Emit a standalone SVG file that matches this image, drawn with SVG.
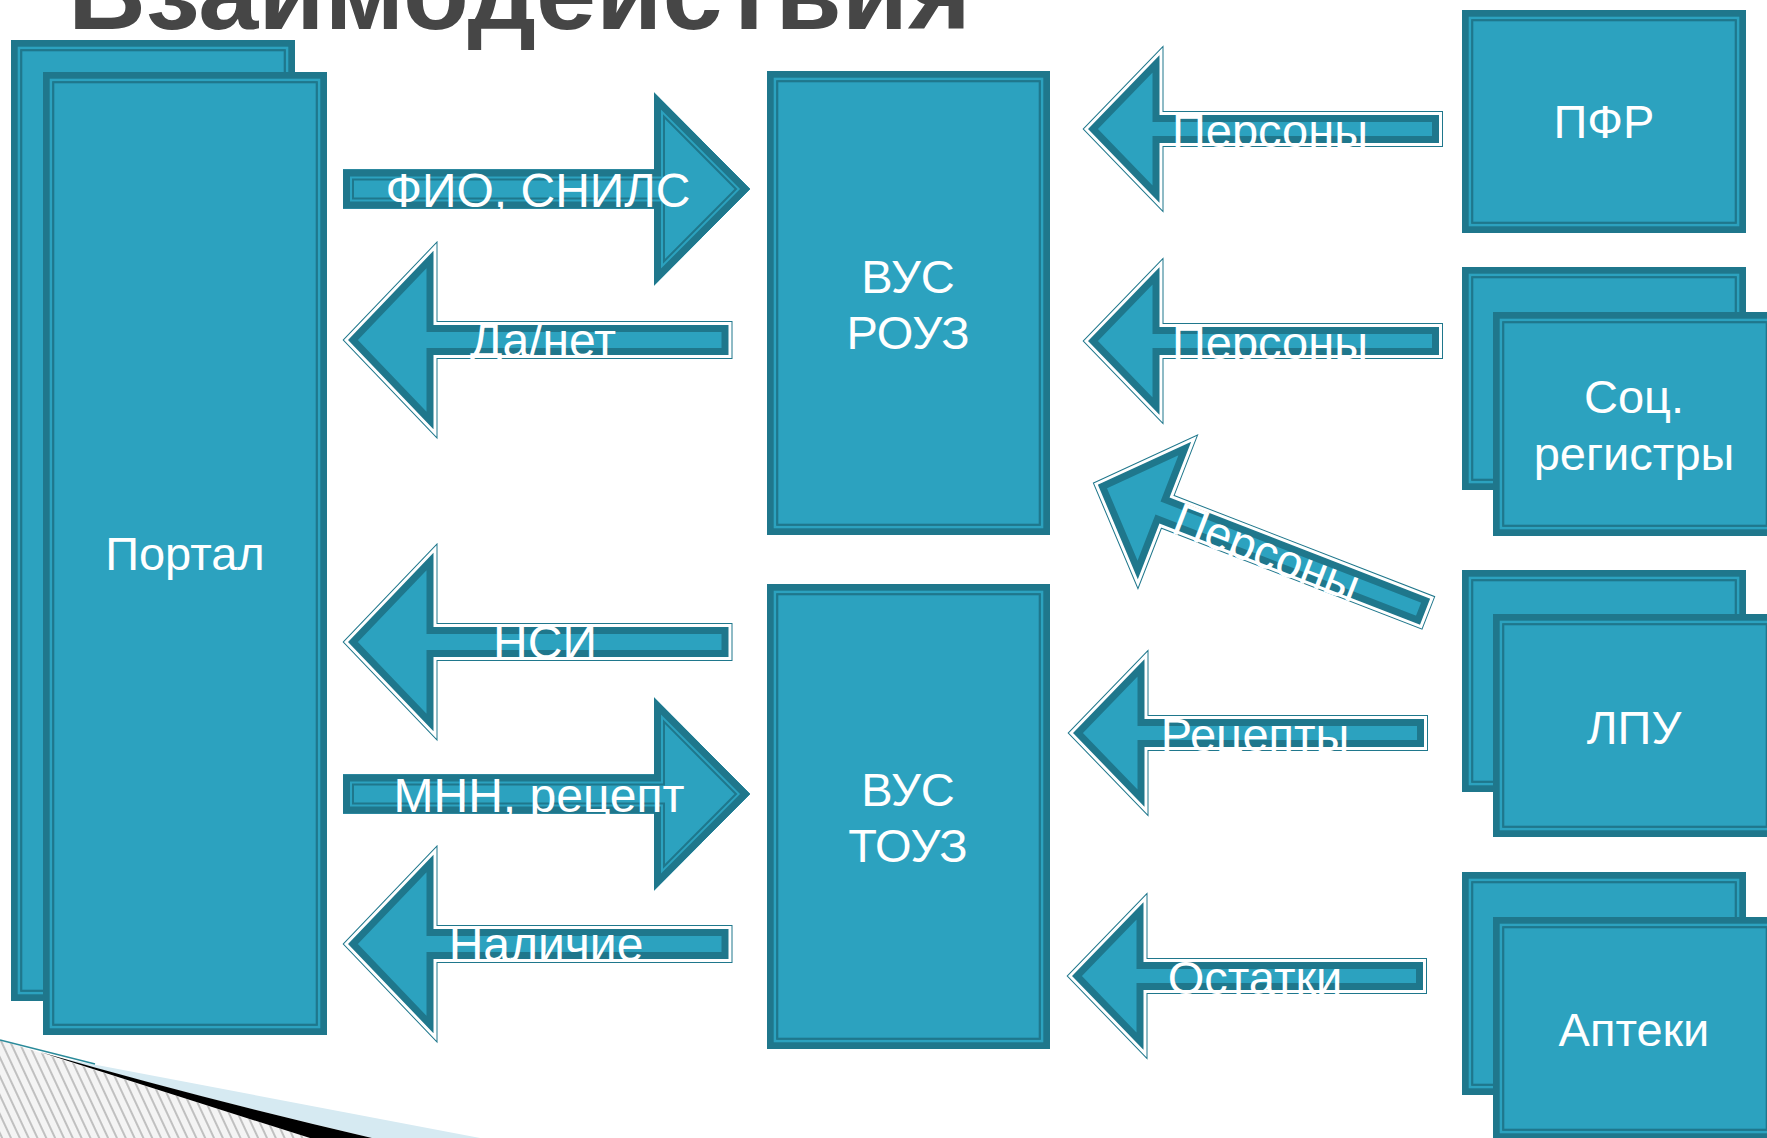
<svg xmlns="http://www.w3.org/2000/svg" width="1767" height="1138" viewBox="0 0 1767 1138">
<defs>
<style>
.t{font-family:"Liberation Sans",Arial,sans-serif;fill:#fff;text-anchor:middle}
.nt{font-size:47px}
.at{font-size:48px}
.pt{font-size:47px}
.bo{fill:#1F778C}
.bl{fill:none;stroke:#2CA2BF;stroke-width:2.6}
.bi{fill:#2CA2BF;stroke:#1F778C;stroke-width:2}
.ao{fill:#1F778C;stroke:#1F778C;stroke-width:5}
.aw{fill:none;stroke:#fff;stroke-width:3}
.ab{fill:#2CA2BF;stroke:#1F778C;stroke-width:17}
.rb1{fill:#2CA2BF;stroke:#1F778C;stroke-width:22}
.rb2{fill:none;stroke:#2CA2BF;stroke-width:18}
.rb3{fill:none;stroke:#1F778C;stroke-width:14}
.title{font-family:"Liberation Sans",Arial,sans-serif;font-weight:bold;font-size:106px;fill:#464646}
</style>
<path id="pL" d="M3,0 L92,-93 L92,-16.5 L387,-16.5 L387,16.5 L92,16.5 L92,93 Z"/>
<path id="pP" d="M3,0 L78,-77.5 L78,-15.5 L357.5,-15.5 L357.5,15.5 L78,15.5 L78,77.5 Z"/>
<path id="pR" d="M0,-19.5 L311,-19.5 L311,-96.5 L407,0 L311,96.5 L311,19.5 L0,19.5 Z"/>
<clipPath id="cL"><use href="#pL"/></clipPath>
<clipPath id="cP"><use href="#pP"/></clipPath>
<clipPath id="cR"><use href="#pR"/></clipPath>
<pattern id="hatch" patternUnits="userSpaceOnUse" width="8" height="8" patternTransform="rotate(-25)">
<rect width="8" height="8" fill="#f4f4f4"/>
<line x1="1" y1="0" x2="1" y2="8" stroke="#8c8c8c" stroke-width="1"/>
</pattern>
</defs>
<rect width="1767" height="1138" fill="#fff"/>

<text class="title" x="68" y="29" textLength="903" lengthAdjust="spacingAndGlyphs">Взаимодействия</text>

<g id="decoration">
<path d="M60,1058 L480,1138 L372,1138 Q200,1098 60,1058 Z" fill="#d6eaf2"/>
<path d="M0,1040 L310,1138 L0,1138 Z" fill="url(#hatch)"/>
<path d="M40,1052 Q200,1098 372,1138 L310,1138 Q180,1097 40,1052 Z" fill="#000"/>
<path d="M0,1040 L95,1064" stroke="#2a8a9a" stroke-width="1.5" fill="none"/>
</g>

<g id="node-portal">
<rect class="bo" x="11" y="40" width="284" height="961"/>
<rect class="bl" x="19" y="48" width="268" height="945"/>
<rect class="bi" x="21.3" y="50.3" width="263.4" height="940.4"/>
<rect class="bo" x="43" y="72" width="284" height="963"/>
<rect class="bl" x="51" y="80" width="268" height="947"/>
<rect class="bi" x="53.3" y="82.3" width="263.4" height="942.4"/>
<text class="t nt" x="185" y="570">Портал</text>
</g>

<g id="node-vus-rouz">
<rect class="bo" x="767" y="71" width="283" height="464"/>
<rect class="bl" x="775" y="79" width="267" height="448"/>
<rect class="bi" x="777.3" y="81.3" width="262.4" height="443.4"/>
<text class="t nt" x="908" y="293">ВУС</text>
<text class="t nt" x="908" y="349">РОУЗ</text>
</g>

<g id="node-vus-touz">
<rect class="bo" x="767" y="584" width="283" height="465"/>
<rect class="bl" x="775" y="592" width="267" height="449"/>
<rect class="bi" x="777.3" y="594.3" width="262.4" height="444.4"/>
<text class="t nt" x="908" y="806">ВУС</text>
<text class="t nt" x="908" y="862">ТОУЗ</text>
</g>

<g id="node-pfr">
<rect class="bo" x="1462" y="10" width="284" height="223"/>
<rect class="bl" x="1470" y="18" width="268" height="207"/>
<rect class="bi" x="1472.3" y="20.3" width="263.4" height="202.4"/>
<text class="t nt" x="1604" y="138">ПФР</text>
</g>

<g id="node-soc">
<rect class="bo" x="1462" y="267" width="284" height="223"/>
<rect class="bl" x="1470" y="275" width="268" height="207"/>
<rect class="bi" x="1472.3" y="277.3" width="263.4" height="202.4"/>
<rect class="bo" x="1493" y="312" width="284" height="224"/>
<rect class="bl" x="1501" y="320" width="268" height="208"/>
<rect class="bi" x="1503.3" y="322.3" width="263.4" height="203.4"/>
<text class="t nt" x="1634" y="413">Соц.</text>
<text class="t nt" x="1634" y="470">регистры</text>
</g>

<g id="node-lpu">
<rect class="bo" x="1462" y="570" width="284" height="222"/>
<rect class="bl" x="1470" y="578" width="268" height="206"/>
<rect class="bi" x="1472.3" y="580.3" width="263.4" height="201.4"/>
<rect class="bo" x="1493" y="614" width="284" height="223"/>
<rect class="bl" x="1501" y="622" width="268" height="207"/>
<rect class="bi" x="1503.3" y="624.3" width="263.4" height="202.4"/>
<text class="t nt" x="1634" y="744">ЛПУ</text>
</g>

<g id="node-apteki">
<rect class="bo" x="1462" y="872" width="284" height="223"/>
<rect class="bl" x="1470" y="880" width="268" height="207"/>
<rect class="bi" x="1472.3" y="882.3" width="263.4" height="202.4"/>
<rect class="bo" x="1493" y="917" width="284" height="223"/>
<rect class="bl" x="1501" y="925" width="268" height="207"/>
<rect class="bi" x="1503.3" y="927.3" width="263.4" height="202.4"/>
<text class="t nt" x="1634" y="1046">Аптеки</text>
</g>

<g id="connectors">
<g id="arrow-fio" transform="translate(343,189)">
<use href="#pR" class="bo"/>
<use href="#pR" class="rb1" clip-path="url(#cR)"/>
<use href="#pR" class="rb2" clip-path="url(#cR)"/>
<use href="#pR" class="rb3" clip-path="url(#cR)"/>
<text class="t at" x="195" y="18">ФИО, СНИЛС</text>
</g>
<g id="arrow-mnn" transform="translate(343,794)">
<use href="#pR" class="bo"/>
<use href="#pR" class="rb1" clip-path="url(#cR)"/>
<use href="#pR" class="rb2" clip-path="url(#cR)"/>
<use href="#pR" class="rb3" clip-path="url(#cR)"/>
<text class="t at" x="196" y="18">МНН, рецепт</text>
</g>
<g id="arrow-danet" transform="translate(343,340)">
<use href="#pL" class="ao"/>
<use href="#pL" class="ab" clip-path="url(#cL)"/>
<use href="#pL" class="aw"/>
<text class="t at" x="200" y="17">Да/нет</text>
</g>
<g id="arrow-nsi" transform="translate(343,642)">
<use href="#pL" class="ao"/>
<use href="#pL" class="ab" clip-path="url(#cL)"/>
<use href="#pL" class="aw"/>
<text class="t at" x="202" y="17">НСИ</text>
</g>
<g id="arrow-nalichie" transform="translate(343,944)">
<use href="#pL" class="ao"/>
<use href="#pL" class="ab" clip-path="url(#cL)"/>
<use href="#pL" class="aw"/>
<text class="t at" x="203" y="17">Наличие</text>
</g>
<g id="arrow-persony-1" transform="translate(1083,129)">
<use href="#pP" class="ao"/>
<use href="#pP" class="ab" clip-path="url(#cP)"/>
<use href="#pP" class="aw"/>
<text class="t pt" x="187" y="18">Персоны</text>
</g>
<g id="arrow-persony-2" transform="translate(1083,341)">
<use href="#pP" class="ao"/>
<use href="#pP" class="ab" clip-path="url(#cP)"/>
<use href="#pP" class="aw"/>
<text class="t pt" x="187" y="18">Персоны</text>
</g>
<g id="arrow-persony-3" transform="translate(1261,548) rotate(21.2) translate(-180,0)">
<use href="#pP" class="ao"/>
<use href="#pP" class="ab" clip-path="url(#cP)"/>
<use href="#pP" class="aw"/>
<text class="t pt" x="187" y="18">Персоны</text>
</g>
<g id="arrow-recepty" transform="translate(1068,733)">
<use href="#pP" class="ao"/>
<use href="#pP" class="ab" clip-path="url(#cP)"/>
<use href="#pP" class="aw"/>
<text class="t pt" x="187" y="18">Рецепты</text>
</g>
<g id="arrow-ostatki" transform="translate(1067,976)">
<use href="#pP" class="ao"/>
<use href="#pP" class="ab" clip-path="url(#cP)"/>
<use href="#pP" class="aw"/>
<text class="t pt" x="188" y="18">Остатки</text>
</g>
</g>
</svg>
